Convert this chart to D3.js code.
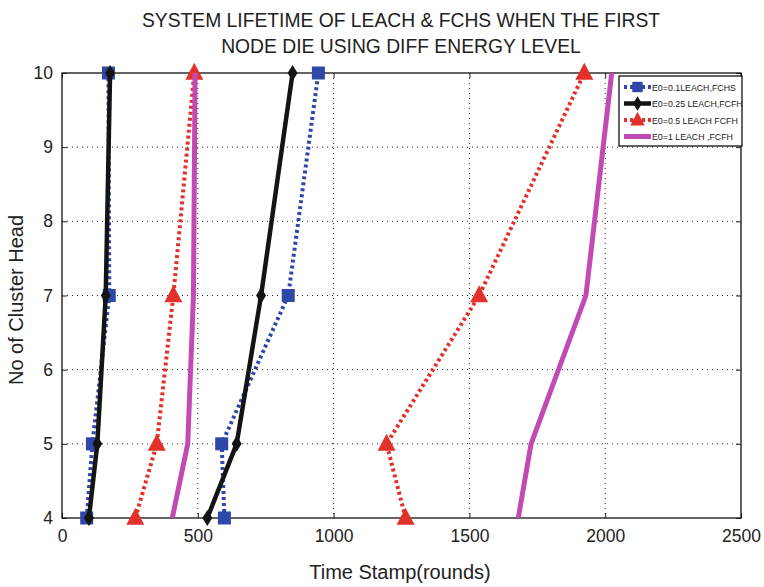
<!DOCTYPE html>
<html>
<head>
<meta charset="utf-8">
<script src="https://cdn.jsdelivr.net/npm/d3@7"></script>
<style>
  body { margin: 0; background: #fff; }
  svg { font-family: "Liberation Sans", Arial, sans-serif; }
</style>
</head>
<body>
<div id="chart"></div>
<script>
// cluster head counts (y values)
const clusterHeads = [4, 5, 7, 10];

// rounds for each energy level, two curves each (LEACH / FCHS)
const e01Leach = [91, 112, 174, 171];
const e01Fchs  = [598, 588, 833, 944];
const e025Leach = [99, 130, 161, 177];
const e025Fchs  = [535, 643, 733, 849];
const e05Leach = [270, 349, 410, 487];
const e05Fchs  = [1265, 1195, 1536, 1923];
const e1Leach = [406, 463, 484, 490];
const e1Fchs  = [1680, 1727, 1929, 2024];

const legendLabels = ["E0=0.1LEACH,FCHS", "E0=0.25 LEACH,FCFH", "E0=0.5 LEACH FCFH", "E0=1 LEACH ,FCFH"];
const xTicks = [0, 500, 1000, 1500, 2000, 2500];
const yTicks = [4, 5, 6, 7, 8, 9, 10];

const styles = [
  { color: "#2f47a8", width: 4, dash: "3,3", marker: "square" },
  { color: "#141414", width: 4.5, dash: null, marker: "diamond" },
  { color: "#e2312b", width: 4, dash: "3,3", marker: "triangle" },
  { color: "#c24bb3", width: 5, dash: null, marker: null }
];
const groups = [
  [e01Leach, e01Fchs],
  [e025Leach, e025Fchs],
  [e05Leach, e05Fchs],
  [e1Leach, e1Fchs]
];

const W = 764, H = 587;
const margin = { top: 73, right: 23, bottom: 69, left: 62 };
const width = W - margin.left - margin.right;
const height = H - margin.top - margin.bottom;

const svg = d3.select("#chart").append("svg")
  .attr("width", W).attr("height", H);

const g = svg.append("g").attr("transform", `translate(${margin.left},${margin.top})`);

const x = d3.scaleLinear().domain([0, 2500]).range([0, width]);
const y = d3.scaleLinear().domain([4, 10]).range([height, 0]);

// grid
g.append("g").selectAll("line").data(xTicks.slice(1, -1)).enter().append("line")
  .attr("x1", d => x(d)).attr("x2", d => x(d)).attr("y1", 0).attr("y2", height)
  .attr("stroke", "#222").attr("stroke-width", 1).attr("stroke-dasharray", "1,4");
g.append("g").selectAll("line").data(yTicks.slice(1, -1)).enter().append("line")
  .attr("y1", d => y(d)).attr("y2", d => y(d)).attr("x1", 0).attr("x2", width)
  .attr("stroke", "#222").attr("stroke-width", 1).attr("stroke-dasharray", "1,4");

// axes (ticks inward, MATLAB style)
const fmt = d3.format("d");
g.append("g").attr("transform", `translate(0,${height})`)
  .call(d3.axisBottom(x).tickValues(xTicks).tickSize(-5).tickPadding(12).tickFormat(fmt))
  .call(a => a.select(".domain").remove());
g.append("g")
  .call(d3.axisTop(x).tickValues(xTicks).tickSize(-5).tickFormat(""))
  .call(a => a.select(".domain").remove());
g.append("g")
  .call(d3.axisLeft(y).tickValues(yTicks).tickSize(-5).tickPadding(9).tickFormat(fmt))
  .call(a => a.select(".domain").remove());
g.append("g").attr("transform", `translate(${width},0)`)
  .call(d3.axisRight(y).tickValues(yTicks).tickSize(-5).tickFormat(""))
  .call(a => a.select(".domain").remove());
g.selectAll(".tick text").attr("font-size", 17.5).attr("fill", "#222")
  .attr("font-family", "Liberation Sans, Arial, sans-serif");
g.selectAll(".tick line").attr("stroke", "#222");

g.append("rect").attr("width", width).attr("height", height)
  .attr("fill", "none").attr("stroke", "#111").attr("stroke-width", 1.3);

// lines
const line = d3.line().x(d => x(d.v)).y(d => y(d.c));

function drawMarker(sel, type, color, cx, cy, scale = 1) {
  if (type === "square") {
    const s = 13 * scale;
    sel.append("rect").attr("x", cx - s / 2).attr("y", cy - s / 2)
      .attr("width", s).attr("height", s).attr("fill", color);
  } else if (type === "diamond") {
    const w = 5 * scale, h = 8 * scale;
    sel.append("path").attr("d", `M${cx},${cy - h}L${cx + w},${cy}L${cx},${cy + h}L${cx - w},${cy}Z`)
      .attr("fill", color);
  } else if (type === "triangle") {
    const w = 9 * scale, h = 17 * scale;
    sel.append("path").attr("d", `M${cx},${cy - h * 0.6}L${cx + w},${cy + h * 0.4}L${cx - w},${cy + h * 0.4}Z`)
      .attr("fill", color);
  }
}

groups.forEach((pair, i) => {
  const st = styles[i];
  pair.forEach(vals => {
    const pts = vals.map((v, k) => ({ v, c: clusterHeads[k] }));
    g.append("path").attr("d", line(pts))
      .attr("fill", "none").attr("stroke", st.color).attr("stroke-width", st.width)
      .attr("stroke-dasharray", st.dash).attr("stroke-linejoin", "round");
    if (st.marker) {
      pts.forEach(p => drawMarker(g, st.marker, st.color, x(p.v), y(p.c)));
    }
  });
});

// legend
const lg = svg.append("g").attr("transform", "translate(619,76)");
lg.append("rect").attr("width", 123).attr("height", 70)
  .attr("fill", "#fff").attr("stroke", "#111").attr("stroke-width", 1.3);
legendLabels.forEach((lab, i) => {
  const st = styles[i];
  const yy = 11 + i * 16.5;
  const row = lg.append("g");
  row.append("line").attr("x1", 5).attr("x2", 32).attr("y1", yy).attr("y2", yy)
    .attr("stroke", st.color).attr("stroke-width", st.width)
    .attr("stroke-dasharray", st.dash);
  if (st.marker) drawMarker(row, st.marker, st.color, 18.5, yy, st.marker === "diamond" ? 0.9 : 0.8);
  row.append("text").attr("x", 33).attr("y", yy + 3.5)
    .attr("font-size", 8.8).attr("fill", "#222").text(lab);
});

// titles
svg.append("text").attr("x", 401).attr("y", 27).attr("text-anchor", "middle")
  .attr("font-size", 19.3).attr("fill", "#222")
  .text("SYSTEM LIFETIME OF LEACH & FCHS WHEN THE FIRST");
svg.append("text").attr("x", 401).attr("y", 53).attr("text-anchor", "middle")
  .attr("font-size", 19.3).attr("fill", "#222")
  .text("NODE DIE USING DIFF ENERGY LEVEL");

svg.append("text").attr("x", 400).attr("y", 579).attr("text-anchor", "middle")
  .attr("font-size", 20).attr("fill", "#222").text("Time Stamp(rounds)");
svg.append("text").attr("transform", "translate(23,300) rotate(-90)")
  .attr("text-anchor", "middle").attr("font-size", 20).attr("fill", "#222")
  .text("No of Cluster Head");
</script>
</body>
</html>
